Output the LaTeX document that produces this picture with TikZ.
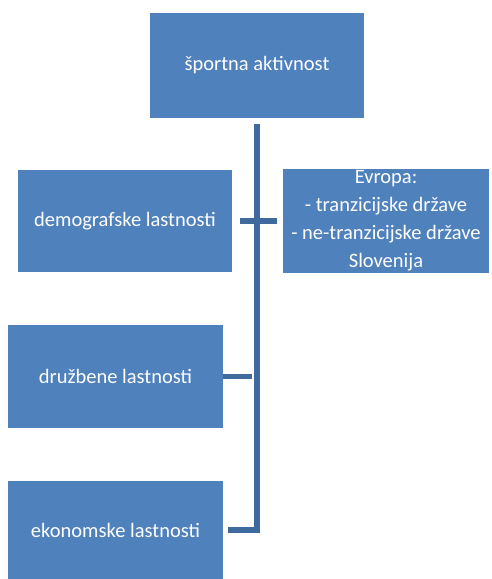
\documentclass[tikz,border=0pt]{standalone}
\usepackage{fontspec}
\setmainfont{Carlito}
\usetikzlibrary{positioning}
\definecolor{boxblue}{HTML}{4F81BD}
\definecolor{lineblue}{HTML}{3E6A9E}
\tikzset{
  block/.style={
    rectangle,
    fill=boxblue,
    text=white,
    inner sep=2pt,
    align=center,
    font=\fontsize{20.5}{28}\selectfont},
  branch/.style={draw=lineblue, line width=5.5pt},
}

\begin{document}
\begin{tikzpicture}[x=1pt,y=1pt]
  \useasboundingbox (0,0) rectangle (491,579);
  \node[block, minimum width=214pt, minimum height=105pt] (sport) at (257,513.5) {športna aktivnost};
  \node[block, minimum width=214pt, minimum height=102pt] (demo) at (125,358) {demografske lastnosti};
  \node[block, minimum width=206pt, minimum height=102pt] (evropa) at (386,358)
    {Evropa:\\- tranzicijske države\\- ne-tranzicijske države\\Slovenija};
  \node[block, minimum width=215pt, minimum height=103pt] (druz) at (115.5,202.5) {družbene lastnosti};
  \node[block, minimum width=215pt, minimum height=98pt] (eko) at (115.5,49) {ekonomske lastnosti};
  % the trunk, down from the top box
  \draw[branch, shorten <=6pt, shorten >=5pt] (sport.south) |- (eko.east);
  \draw[branch, shorten <=5pt] (sport.south |- druz.east) -- (druz.east);
  % cross line between the two middle boxes
  \draw[branch, shorten <=8pt, shorten >=6pt] (demo.east) -- (evropa.west);
\end{tikzpicture}
\end{document}
